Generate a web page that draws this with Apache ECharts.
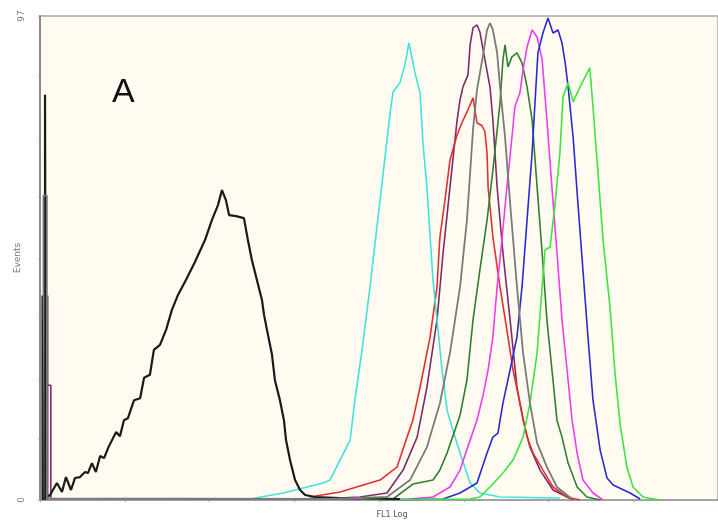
<!DOCTYPE html>
<html>
<head>
<meta charset="utf-8">
<script src="https://cdn.jsdelivr.net/npm/echarts@6/dist/echarts.min.js"></script>
<style>html,body{margin:0;padding:0;background:#fff;}#c{width:718px;height:521px;}</style>
</head>
<body>
<div id="c"></div>
<script>
// FL1 channel (0-256) vs events (0-97)
var yTickLabels = ['0', '97'];
var yAxisTitle = 'Events';
var panelLabel = 'A';

var blackData = [[1.9,0],[1.9,81.2],[2.2,81.2],[2.2,0.5],[3.8,1.0],[6.4,3.4],[8.3,1.6],[9.8,4.6],[11.7,2.0],[13.2,4.4],[15.1,4.6],[17.0,5.6],[18.1,5.4],[19.6,7.4],[21.1,5.6],[22.7,8.8],[24.2,8.4],[25.7,10.4],[27.2,12.0],[28.7,13.6],[30.2,12.8],[31.7,16.0],[33.2,16.4],[35.5,20.0],[37.8,20.4],[39.3,24.5],[41.5,25.1],[43.0,30.1],[45.3,31.1],[47.6,34.1],[49.8,38.1],[52.1,41.1],[55.1,44.1],[58.5,47.7],[62.3,52.1],[64.9,56.1],[67.2,59.1],[68.7,62.1],[70.2,60.1],[71.4,57.1],[74.0,56.9],[77.0,56.5],[78.5,52.1],[80.0,48.1],[81.9,44.1],[83.8,40.1],[84.6,37.1],[85.7,34.1],[87.6,29.1],[88.7,24.0],[90.6,20.0],[92.1,16.0],[92.9,12.0],[94.4,8.0],[96.3,4.0],[98.2,2.0],[100.1,1.0],[103.8,0.6],[113.3,0.4],[135.9,0.2]];
var spikeLeftData = [[0.8,0],[0.8,41],[1.2,41],[1.2,0]];
var cyanData = [[79.3,0.2],[91.8,1.4],[106.9,3.4],[109.5,4.0],[113.3,8.0],[117.1,12.0],[118.9,20.0],[121.6,30.1],[124.6,42.7],[128.4,60.1],[132.2,77.6],[133.3,81.8],[135.9,83.6],[137.8,87.2],[139.3,91.6],[141.6,85.6],[143.5,81.6],[144.6,71.5],[146.1,62.7],[147.3,52.7],[148.4,44.1],[149.9,36.1],[151.8,26.1],[153.7,18.0],[155.9,14.0],[158.6,9.4],[162.4,3.4],[166.1,1.4],[173.7,0.6],[196.3,0.4]];
var redData = [[101.9,0.6],[113.3,1.6],[120.8,2.8],[128.4,4.0],[134.8,6.6],[138.6,12.6],[140.8,16.0],[143.5,22.6],[147.3,32.7],[149.9,42.7],[151.0,52.7],[152.9,60.1],[154.8,68.1],[157.5,73.2],[159.3,75.6],[161.6,78.2],[163.5,80.6],[165.0,75.6],[166.9,75.0],[168.0,73.8],[168.8,69.5],[169.2,62.7],[171.0,52.7],[173.7,42.7],[176.7,32.7],[178.6,26.1],[181.2,19.4],[183.9,12.6],[186.2,9.4],[189.9,6.0],[193.7,2.6],[199.0,0.6],[203.9,0]];
var purpleData = [[2.9,0],[2.9,41],[2.9,23],[4.1,23],[4.1,0.3],[105.7,0.2],[120.8,0.6],[131.0,1.4],[137.1,6.0],[142.4,12.6],[146.1,22.6],[149.9,36.1],[152.2,49.5],[154.8,62.7],[157.5,76.2],[158.6,80.2],[159.7,82.8],[161.6,85.2],[162.4,91.2],[163.5,94.6],[165.0,95.2],[166.1,93.8],[167.3,90.2],[169.9,82.8],[171.0,76.2],[172.6,62.7],[174.8,49.5],[177.5,36.1],[180.1,22.6],[182.4,16.0],[185.0,10.6],[188.8,6.0],[193.7,2.0],[201.3,0]];
var grayData = [[1.3,0],[1.3,61],[2.6,61],[2.6,41],[2.6,0.3],[109.5,0.2],[131.0,0.6],[139.7,4.0],[146.1,10.6],[151.0,19.4],[154.8,29.5],[158.6,42.7],[161.2,56.1],[163.5,74.2],[165.0,82.2],[167.3,89.2],[168.8,94.2],[169.9,95.6],[171.0,94.2],[172.6,89.6],[173.7,82.8],[175.6,72.7],[177.5,59.5],[180.1,42.7],[182.4,29.5],[185.0,19.4],[187.7,11.4],[191.4,6.6],[195.2,2.6],[201.3,0]];
var darkGreenData = [[98.2,0.2],[133.3,0.2],[140.8,3.2],[148.4,4.0],[151.0,6.0],[153.7,9.4],[155.9,12.8],[158.6,17.0],[161.2,24.0],[163.5,36.1],[166.1,46.1],[168.8,56.1],[171.0,66.1],[173.7,79.6],[174.8,88.2],[175.6,91.2],[176.7,86.8],[178.2,88.8],[180.1,89.6],[182.0,87.6],[183.9,82.8],[185.8,76.2],[187.7,62.7],[189.6,49.5],[191.4,36.1],[193.3,26.1],[195.2,16.0],[197.1,12.6],[199.4,7.4],[202.8,2.6],[206.5,0.6],[211.5,0]];
var magentaData = [[117.1,0],[139.7,0.2],[148.4,0.6],[154.8,2.6],[158.6,6.0],[162.4,12.0],[165.0,16.0],[167.3,21.0],[169.2,26.1],[171.0,32.7],[172.6,42.7],[174.5,52.7],[176.3,62.7],[178.2,72.7],[179.3,78.8],[181.2,81.6],[182.4,86.2],[183.9,90.8],[185.8,94.2],[187.7,92.8],[189.6,88.2],[191.4,76.2],[193.3,62.7],[195.2,49.5],[197.1,36.1],[199.0,26.1],[200.9,16.0],[202.8,9.4],[205.0,4.0],[208.8,1.4],[212.6,0]];
var blueData = [[128.4,0],[152.2,0.2],[158.6,1.4],[165.0,3.4],[168.8,9.4],[171.0,12.6],[172.9,13.4],[174.8,19.4],[177.5,26.1],[180.1,32.7],[182.0,42.7],[183.9,56.1],[185.8,69.5],[186.9,79.6],[188.0,89.6],[189.9,93.6],[191.8,96.6],[193.7,93.6],[195.6,94.2],[197.1,91.6],[198.3,87.6],[199.4,82.8],[201.3,72.7],[203.1,59.5],[205.0,46.1],[206.9,32.7],[208.8,20.0],[211.5,10.0],[214.1,4.4],[216.4,3.0],[222.8,1.4],[226.6,0.2]];
var lightGreenData = [[120.8,0],[162.4,0.2],[166.1,0.6],[169.9,2.6],[174.8,5.4],[178.6,8.0],[182.4,12.6],[185.0,19.4],[187.7,29.5],[189.6,42.7],[190.7,50.1],[192.6,50.7],[194.5,59.5],[196.3,69.5],[197.5,80.8],[199.4,83.6],[201.3,79.8],[203.9,82.8],[207.6,86.6],[208.8,78.8],[210.7,65.5],[212.6,52.1],[215.2,38.7],[217.1,25.5],[219.0,15.4],[221.6,6.6],[223.9,2.6],[227.7,0.6],[234.1,0]];

var seriesDefs = [
  {name:'purple', data: purpleData, color:'#7e2a6a', w:1.6, z:2},
  {name:'red', data: redData, color:'#e3302c', w:1.6, z:2},
  {name:'cyan', data: cyanData, color:'#3fe3dc', w:1.6, z:2},
  {name:'darkgreen', data: darkGreenData, color:'#2f7f2f', w:1.6, z:2},
  {name:'magenta', data: magentaData, color:'#ee3cee', w:1.6, z:2},
  {name:'blue', data: blueData, color:'#2a2ad0', w:1.6, z:2},
  {name:'lightgreen', data: lightGreenData, color:'#3fe23f', w:1.6, z:2},
  {name:'black', data: blackData, color:'#1a1a1a', w:2.2, z:3},
  {name:'gray', data: grayData, color:'#7a7a7a', w:1.8, z:4},
  {name:'spike', data: spikeLeftData, color:'#222222', w:1.4, z:4}
];

var chart = echarts.init(document.getElementById('c'), null, {renderer:'canvas'});
chart.setOption({
  animation: false,
  backgroundColor: '#ffffff',
  grid: {left: 40, right: 0, top: 16, bottom: 21, containLabel: false, outerBoundsMode: 'none',
    show: true, backgroundColor: '#fffbf0', borderColor: '#a8a8a8', borderWidth: 1.5},
  xAxis: {
    type: 'value', min: 0, max: 256, interval: 32,
    name: 'FL1 Log', nameLocation: 'middle', nameGap: 11,
    nameTextStyle: {fontSize: 8, color: '#555', fontFamily: 'DejaVu Sans', padding: [0,0,0,26]},
    axisLine: {show: true, lineStyle: {color: '#999', width: 1.5}},
    axisTick: {show: true, length: 2, lineStyle: {color: '#999'}},
    axisLabel: {show: false},
    splitLine: {show: false}
  },
  yAxis: {
    type: 'value', min: 0, max: 97, interval: 12.125,
    axisLine: {show: true, lineStyle: {color: '#8a8a8a', width: 2}},
    axisTick: {show: true, length: 2, lineStyle: {color: '#aaa'}},
    axisLabel: {
      show: true, rotate: 90, fontSize: 9, color: '#777', margin: 14, fontFamily: 'DejaVu Sans',
      formatter: function (v) { if (v === 0) return yTickLabels[0]; if (Math.abs(v - 97) < 1e-6) return yTickLabels[1]; return ''; }
    },
    splitLine: {show: false}
  },
  graphic: [
    {type: 'text', left: 112, top: 76, style: {text: panelLabel, font: '34px "Liberation Sans", Arial, sans-serif', fill: '#111'}},
    {type: 'text', x: 18, y: 258, rotation: Math.PI / 2, style: {text: yAxisTitle, font: '9px "DejaVu Sans", sans-serif', fill: '#777', align: 'center', verticalAlign: 'middle'}}
  ],
  series: seriesDefs.map(function (s) {
    return {type: 'line', name: s.name, data: s.data, showSymbol: false, symbol: 'none', smooth: false,
      lineStyle: {color: s.color, width: s.w}, itemStyle: {color: s.color}, z: s.z};
  })
});
</script>
</body>
</html>
